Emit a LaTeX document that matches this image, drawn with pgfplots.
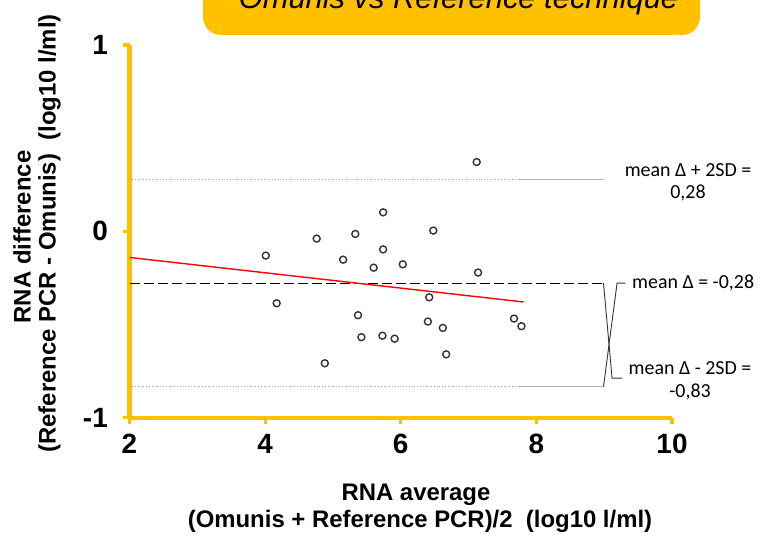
\documentclass[border=0pt]{standalone}
\usepackage{pgfplots}
\pgfplotsset{compat=1.18}
\usepackage{fontspec}
\setmainfont{Liberation Sans}
\newfontfamily\carlito{Carlito}
\definecolor{gold}{RGB}{255,192,0}
\begin{document}
\begin{tikzpicture}
\fill[gold, rounded corners=18bp] (203bp,500bp) rectangle (700bp,570bp);
\node[anchor=base, inner sep=0pt, font=\fontsize{31}{33}\selectfont\itshape] at (458.5bp,526.5bp) {Omunis vs Reference technique};
\begin{axis}[
  at={(129.5bp,117.3bp)}, anchor=south west,
  scale only axis, width=542.5bp, height=372.7bp,
  xmin=2, xmax=10, ymin=-1, ymax=1,
  axis x line*=bottom, axis y line*=left,
  axis line style={draw=gold, line width=4.2bp, -},
  xtick={2,4,6,8,10}, xticklabels={2,4,6,8,10},
  ytick={-1,0,1}, yticklabels={-1,0,1},
  minor tick num=0,
  tick align=outside, major tick length=6.5bp,
  tick style={draw=gold, line width=3.2bp},
  xticklabel style={font=\fontsize{28}{30}\selectfont\bfseries, anchor=north, inner sep=0pt, yshift=-10bp},
  yticklabel style={font=\fontsize{28}{30}\selectfont\bfseries, anchor=east, inner sep=0pt, xshift=-15bp},
  clip=false,
]
\addplot[gray!70, dotted, line width=0.8bp] coordinates {(2,0.28) (7.75,0.28)};
\addplot[gray!60, line width=0.8bp] coordinates {(7.75,0.28) (8.99,0.28)};
\addplot[gray!70, dotted, line width=0.8bp] coordinates {(2,-0.83) (7.75,-0.83)};
\addplot[gray!60, line width=0.8bp] coordinates {(7.75,-0.83) (8.99,-0.83)};
\addplot[black, line width=1.4bp, dash pattern=on 10bp off 4bp] coordinates {(2,-0.28) (8.99,-0.28)};
\addplot[red, line width=1.4bp] coordinates {(2,-0.140) (7.81,-0.379)};
\addplot[only marks, mark=o, mark size=3.5bp, mark options={line width=1.4bp, draw=black!80}] coordinates {
(4.01,-0.130) (4.17,-0.386) (4.76,-0.039) (4.88,-0.708) (5.15,-0.152)
(5.33,-0.014) (5.37,-0.450) (5.42,-0.568) (5.60,-0.195) (5.74,0.102)
(5.74,-0.097) (5.73,-0.560) (5.91,-0.576) (6.03,-0.177) (6.42,-0.354)
(6.40,-0.484) (6.48,0.004) (6.62,-0.518) (6.67,-0.660) (7.12,0.372)
(7.14,-0.221) (7.67,-0.468) (7.78,-0.509)
};
\draw[black!80, line width=0.9bp] (axis cs:8.99,-0.278) -- (axis cs:9.116,-0.788) -- (axis cs:9.263,-0.788);
\draw[black!80, line width=0.9bp] (axis cs:9.312,-0.278) -- (axis cs:9.19,-0.278) -- (axis cs:8.99,-0.833);
\end{axis}
\begin{scope}[font=\carlito\fontsize{20}{22}\selectfont]
\node[inner sep=0pt] at (688bp,365bp) {mean Δ + 2SD =};
\node[inner sep=0pt] at (688bp,342bp) {0,28};
\node[inner sep=0pt, anchor=west] at (632bp,252bp) {mean Δ = -0,28};
\node[inner sep=0pt] at (690bp,167bp) {mean Δ - 2SD =};
\node[inner sep=0pt] at (690bp,143bp) {-0,83};
\end{scope}
\begin{scope}[font=\fontsize{24}{26}\selectfont\bfseries]
\node[anchor=base, inner sep=0pt] at (416bp,35bp) {RNA average};
\node[anchor=base, inner sep=0pt] at (420bp,8bp) {(Omunis + Reference PCR)/2\ \ (log10 l/ml)};
\node[anchor=base, inner sep=0pt, rotate=90] at (30.6bp,298bp) {RNA difference};
\node[anchor=base, inner sep=0pt, rotate=90] at (55.6bp,301.5bp) {(Reference PCR - Omunis)\ \ (log10 l/ml)};
\end{scope}
\pgfresetboundingbox
\useasboundingbox (0,0) rectangle (777bp,535bp);
\end{tikzpicture}
\end{document}
